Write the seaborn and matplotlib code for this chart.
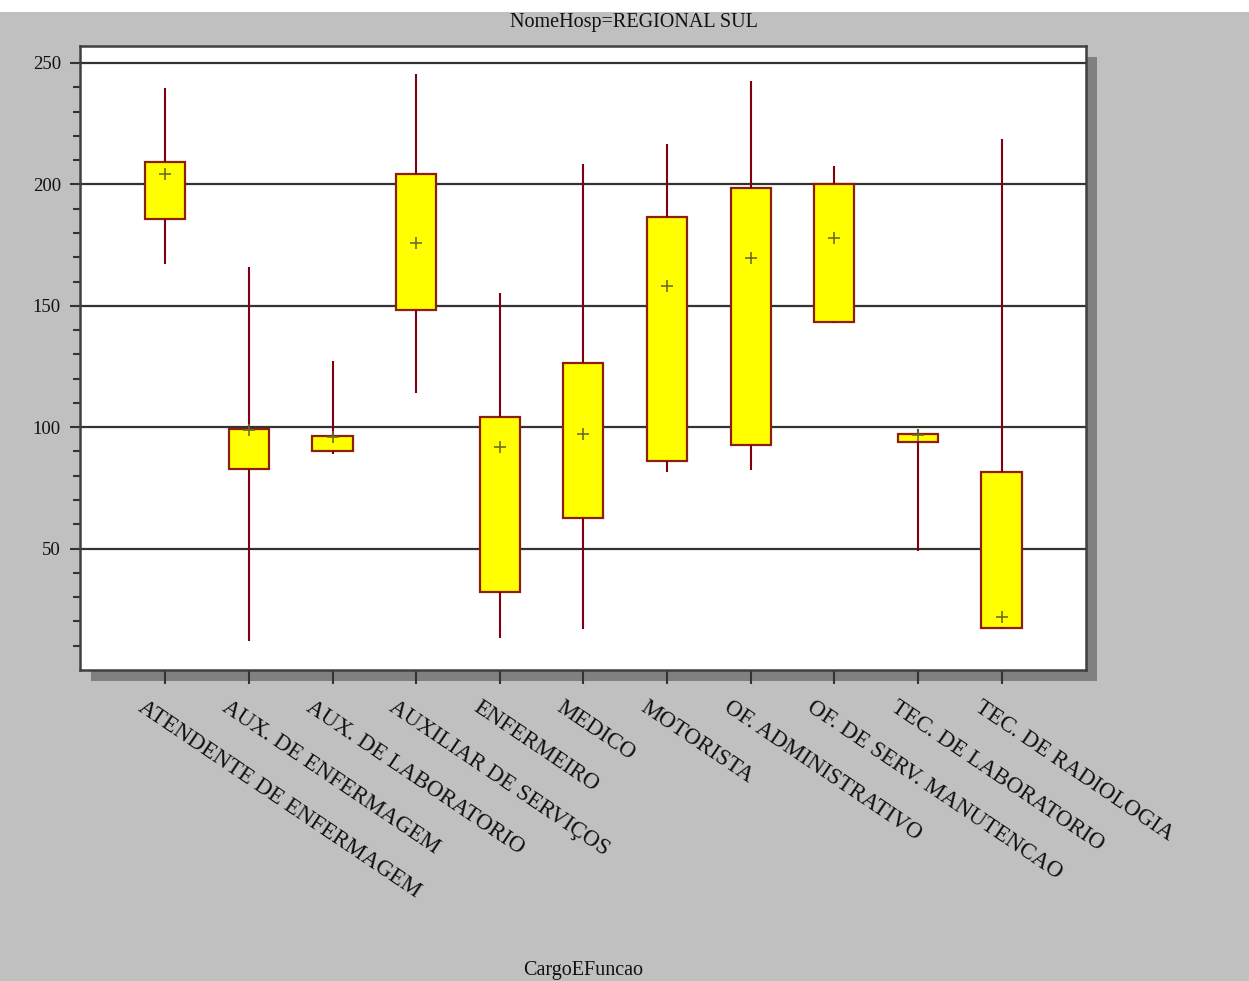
import numpy as np
import pandas as pd
import matplotlib
matplotlib.use("Agg")
import matplotlib.pyplot as plt
from matplotlib.patches import Rectangle
from matplotlib.ticker import FixedLocator
from matplotlib.transforms import ScaledTranslation
import seaborn as sns

# Box statistics per job title (whisker ends, quartiles, mean)
cargos = [
    "ATENDENTE DE ENFERMAGEM",
    "AUX. DE ENFERMAGEM",
    "AUX. DE LABORATORIO",
    "AUXILIAR DE SERVIÇOS",
    "ENFERMEIRO",
    "MEDICO",
    "MOTORISTA",
    "OF. ADMINISTRATIVO",
    "OF. DE SERV. MANUTENCAO",
    "TEC. DE LABORATORIO",
    "TEC. DE RADIOLOGIA",
]
minimo = [167.2, 12.1, 89.0, 114.2, 13.2, 16.9, 81.7, 82.4, 142.8, 49.2, 16.9]
q1 = [185.8, 82.7, 90.4, 148.3, 32.3, 62.8, 86.1, 92.7, 143.5, 93.8, 17.5]
q3 = [209.1, 99.4, 96.4, 204.4, 104.1, 126.3, 186.4, 198.5, 200.1, 97.0, 81.5]
maximo = [239.9, 165.8, 127.4, 245.3, 155.1, 208.6, 216.5, 242.7, 207.7, 99.3, 218.5]
media = [204.2, 99.0, 95.9, 175.7, 92.0, 97.0, 158.3, 169.7, 178.0, 96.7, 21.8]

y_ticks = [50, 100, 150, 200, 250]

# Long-form table: five values per group reproduce the box summary exactly
rows = []
for c, lo, a, m, b, hi in zip(cargos, minimo, q1, media, q3, maximo):
    for v in (lo, a, m, b, hi):
        rows.append({"CargoEFuncao": c, "valor": v})
df = pd.DataFrame(rows)

sns.set_theme(style="white")
plt.rcParams["font.family"] = ["Liberation Serif", "DejaVu Serif"]

W, H = 1249, 981
fig = plt.figure(figsize=(W / 100, H / 100), dpi=100)
fig.patch.set_facecolor("#C0C0C0")

# white strip along the top edge
fig.patches.append(Rectangle((0, 1 - 12 / H), 1, 12 / H, transform=fig.transFigure,
                             facecolor="white", edgecolor="none", zorder=-2))

ax_l, ax_r, ax_t, ax_b = 80, 1086, 46, 670
ax = fig.add_axes([ax_l / W, 1 - ax_b / H, (ax_r - ax_l) / W, (ax_b - ax_t) / H])
ax.set_facecolor("white")

# drop shadow behind the plot frame
off = 11
fig.patches.append(Rectangle(((ax_l + off) / W, 1 - (ax_b + off) / H),
                             (ax_r - ax_l) / W, (ax_b - ax_t) / H,
                             transform=fig.transFigure, facecolor="#808080",
                             edgecolor="none", zorder=-1))

ax.set_axisbelow(True)
for yv in y_ticks:
    ax.axhline(yv, color="#333333", lw=1.6, zorder=0)

sns.boxplot(data=df, x="CargoEFuncao", y="valor", ax=ax, whis=(0, 100),
            width=0.48, color="#FFFF00", linecolor="#8B2010", linewidth=1.6,
            saturation=1, showcaps=False, showfliers=False,
            medianprops={"visible": False},
            whiskerprops={"color": "#800010", "linewidth": 1.5},
            boxprops={"edgecolor": "#8B2010", "facecolor": "#FFFF00", "zorder": 2})

sns.stripplot(x=cargos, y=media, ax=ax, jitter=False, marker="+", size=9,
              color="#6E6E28", linewidth=1.2, zorder=4)

ax.set_xlim(-1.02, 11.01)
ax.set_ylim(0, 257)

ax.yaxis.set_major_locator(FixedLocator(y_ticks))
ax.yaxis.set_minor_locator(FixedLocator([v for v in range(10, 251, 10) if v % 50]))
ax.tick_params(axis="y", which="major", direction="out", length=7.2, width=1.5,
               color="#333333", pad=6.5, labelsize=13.5, left=True)
ax.tick_params(axis="y", which="minor", direction="out", length=5, width=1.5,
               color="#333333", left=True)
ax.tick_params(axis="x", which="major", direction="out", length=10, width=1.5,
               color="#333333", pad=9.4, labelsize=16.5, bottom=True)

ax.set_xticks(range(len(cargos)))
ax.set_xticklabels(cargos, rotation=-34, ha="left", va="top",
                   rotation_mode="anchor", color="#111111")
shift = ScaledTranslation(-0.19, 0, fig.dpi_scale_trans)
for lab in ax.get_xticklabels():
    lab.set_transform(lab.get_transform() + shift)
for lab in ax.get_yticklabels():
    lab.set_color("#111111")

ax.set_xlabel("")
ax.set_ylabel("")
for s in ax.spines.values():
    s.set_color("#404040")
    s.set_linewidth(1.8)
    s.set_visible(True)

fig.text(634 / W, 1 - 23 / H, "NomeHosp=REGIONAL SUL", ha="center", va="center",
         fontsize=14.5, color="#111111")
fig.text(583 / W, 1 - 970 / H, "CargoEFuncao", ha="center", va="center",
         fontsize=14.5, color="#111111")

fig.savefig("out.png", dpi=100, facecolor=fig.get_facecolor())
